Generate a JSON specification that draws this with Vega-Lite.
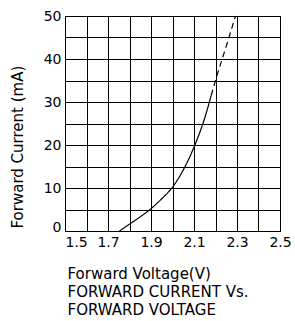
{
  "$schema": "https://vega.github.io/schema/vega-lite/v6.json",
  "autosize": "none",
  "width": 215,
  "height": 215,
  "padding": {"left": 65, "top": 16, "right": 15, "bottom": 90},
  "background": "white",
  "config": {
    "view": {"stroke": "black", "strokeWidth": 1},
    "font": "DejaVu Sans",
    "axis": {
      "labelFont": "DejaVu Sans",
      "titleFont": "DejaVu Sans",
      "labelFontSize": 14,
      "titleFontSize": 15,
      "titleFontWeight": "normal",
      "labelColor": "black",
      "titleColor": "black",
      "gridColor": "black",
      "gridOpacity": 1,
      "gridWidth": 1,
      "domain": false,
      "ticks": false
    }
  },
  "data": {
    "values": [
      {"v": 1.753, "i": 0, "seg": "solid"},
      {"v": 1.8, "i": 1.6, "seg": "solid"},
      {"v": 1.85, "i": 3.3, "seg": "solid"},
      {"v": 1.9, "i": 5.2, "seg": "solid"},
      {"v": 1.95, "i": 7.5, "seg": "solid"},
      {"v": 2.0, "i": 10.2, "seg": "solid"},
      {"v": 2.05, "i": 14.2, "seg": "solid"},
      {"v": 2.1, "i": 19.5, "seg": "solid"},
      {"v": 2.15, "i": 26.3, "seg": "solid"},
      {"v": 2.18, "i": 31.5, "seg": "solid"},
      {"v": 2.18, "i": 31.5, "seg": "dashed"},
      {"v": 2.2, "i": 35, "seg": "dashed"},
      {"v": 2.25, "i": 43, "seg": "dashed"},
      {"v": 2.293, "i": 50, "seg": "dashed"}
    ]
  },
  "mark": {"type": "line", "color": "black", "strokeWidth": 1.2, "interpolate": "monotone"},
  "encoding": {
    "x": {
      "field": "v",
      "type": "quantitative",
      "scale": {"domain": [1.5, 2.5], "nice": false, "zero": false},
      "axis": {
        "title": ["Forward Voltage(V)", "FORWARD CURRENT Vs.", "FORWARD VOLTAGE"],
        "titleAnchor": "start",
        "titleAlign": "left",
        "titleLineHeight": 18,
        "titlePadding": 17,
        "titleX": 2,
        "values": [1.5, 1.6, 1.7, 1.8, 1.9, 2.0, 2.1, 2.2, 2.3, 2.4, 2.5],
        "labelExpr": "round(datum.value*10) % 2 == 1 ? format(datum.value, '.1f') : ''",
        "labelAlign": {"condition": {"test": "datum.value < 1.55", "value": "left"}, "value": "center"},
        "labelPadding": 4,
        "labelFlush": false
      }
    },
    "y": {
      "field": "i",
      "type": "quantitative",
      "scale": {"domain": [0, 50], "nice": false},
      "axis": {
        "title": "Forward Current (mA)",
        "titleAnchor": "start",
        "titlePadding": 18,
        "titleY": 212,
        "titleAlign": "left",
        "values": [0, 5, 10, 15, 20, 25, 30, 35, 40, 45, 50],
        "labelExpr": "datum.value % 10 == 0 ? datum.label : ''",
        "labelBaseline": {"condition": {"test": "datum.value == 0", "value": "alphabetic"}, "value": "middle"},
        "labelPadding": 4,
        "labelFlush": false
      }
    },
    "strokeDash": {
      "field": "seg",
      "type": "nominal",
      "scale": {"domain": ["solid", "dashed"], "range": [[1, 0], [6, 4]]},
      "legend": null
    }
  }
}
